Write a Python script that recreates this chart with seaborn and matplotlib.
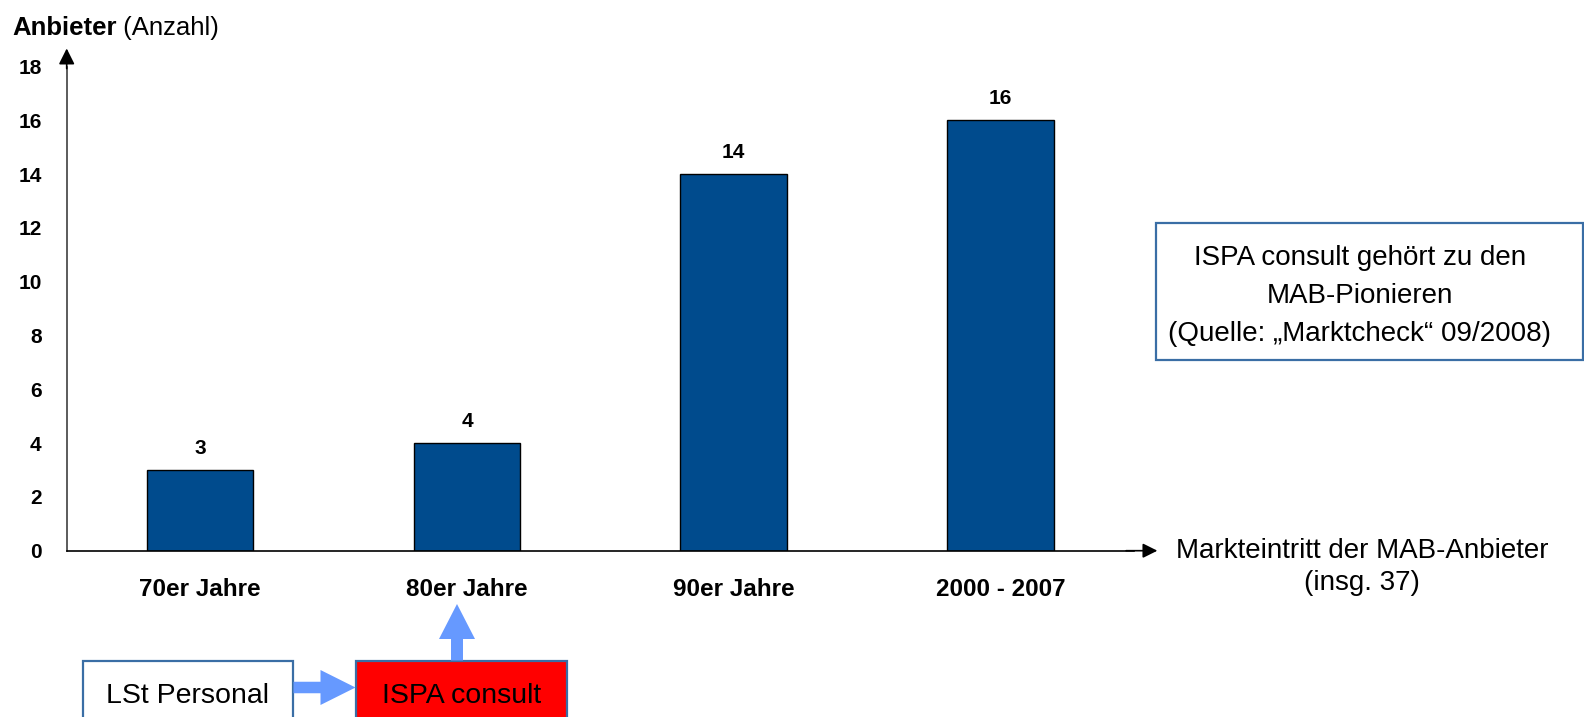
import numpy as np
import pandas as pd
import matplotlib
matplotlib.use("Agg")
import matplotlib.pyplot as plt
from matplotlib.patches import Rectangle, FancyArrow
import seaborn as sns

decades = ["70er Jahre", "80er Jahre", "90er Jahre", "2000 - 2007"]
anbieter = [3, 4, 14, 16]
y_ticks = [0, 2, 4, 6, 8, 10, 12, 14, 16, 18]

bar_color = "#004B8D"
arrow_blue = "#6699FF"
box_blue = "#3A6EA5"

sns.set_style("white")
plt.rcParams["font.family"] = ["Liberation Sans", "DejaVu Sans"]
plt.rcParams["text.color"] = "black"
plt.rcParams["xtick.color"] = "black"
plt.rcParams["ytick.color"] = "black"
plt.rcParams["xtick.labelcolor"] = "black"
plt.rcParams["ytick.labelcolor"] = "black"

W, H = 1584, 717
fig = plt.figure(figsize=(W / 100, H / 100), dpi=100)

# main axes placed in pixel terms (x0=66.7, x1=1134, y(0)=550.7, y(18)=66.5)
ax = fig.add_axes([66.7 / W, 1 - 550.7 / H, (1134 - 66.7) / W, (550.7 - 66.5) / H])
df = pd.DataFrame({"decade": decades, "n": anbieter})
sns.barplot(data=df, x="decade", y="n", color=bar_color, saturation=1,
            width=0.4, edgecolor="black", linewidth=1, ax=ax)

ax.set_xlim(-0.5, 3.5)
ax.set_ylim(0, 18)
ax.set_xlabel("")
ax.set_ylabel("")
sns.despine(ax=ax)
ax.spines["left"].set_color("#404040")
ax.spines["bottom"].set_color("black")
ax.spines["left"].set_linewidth(1.2)
ax.spines["bottom"].set_linewidth(1.2)

ax.set_yticks(y_ticks)
ax.set_yticklabels([str(t) for t in y_ticks], fontsize=15, fontweight="bold")
ax.tick_params(axis="y", direction="out", length=8, width=1, pad=10, color="#404040",
               labelcolor="black")

ax.set_xticks(range(len(decades)))
ax.set_xticklabels(decades, fontsize=17.5, fontweight="bold")
ax.set_xticks(np.arange(-0.5, len(decades), 1), minor=True)
ax.tick_params(axis="x", which="major", length=0, pad=20, labelcolor="black")
ax.tick_params(axis="x", which="minor", direction="out", length=8, width=1, color="black")

for i, v in enumerate(anbieter):
    ax.annotate(str(v), xy=(i, v), xytext=(0, 9), textcoords="offset points",
                ha="center", va="bottom", fontsize=15, fontweight="bold", color="black")

# axis arrows
ax.annotate("", xy=(0, 1.043), xytext=(0, 0.99), xycoords="axes fraction",
            arrowprops=dict(arrowstyle="-|>", mutation_scale=24, lw=1.2, color="black"),
            annotation_clip=False)
ax.annotate("", xy=(1.0245, 0), xytext=(0.99, 0), xycoords="axes fraction",
            arrowprops=dict(arrowstyle="-|>", mutation_scale=22, lw=1.2, color="black"),
            annotation_clip=False)

# overlay in pixel coordinates for the annotations
ov = fig.add_axes([0, 0, 1, 1], zorder=5)
ov.set_xlim(0, W)
ov.set_ylim(H, 0)
ov.axis("off")

t1 = ov.text(12, 35, "Anbieter", fontsize=18.5, fontweight="bold",
             va="baseline", ha="left")
ov.annotate(" (Anzahl)", xy=(1, 0), xycoords=t1, va="bottom", ha="left", fontsize=18.5)

ov.text(1362, 558, "Markteintritt der MAB-Anbieter", fontsize=20,
        ha="center", va="baseline")
ov.text(1362, 590, "(insg. 37)", fontsize=20, ha="center", va="baseline")

ov.add_patch(Rectangle((1156, 222.5), 426.5, 137.5, facecolor="white",
                       edgecolor=box_blue, lw=1.6))
for yb, line in zip([265, 303, 341], ["ISPA consult gehört zu den", "MAB-Pionieren",
                                      "(Quelle: „Marktcheck“ 09/2008)"]):
    ov.text(1360, yb, line, fontsize=20, ha="center", va="baseline")

# bottom boxes and arrows
ov.add_patch(Rectangle((83, 660.7), 210, 70, facecolor="white", edgecolor=box_blue,
                       lw=1.6, clip_on=False))
ov.text(188, 703, "LSt Personal", fontsize=20.5, ha="center", va="baseline")
ov.add_patch(Rectangle((356, 660.7), 211, 70, facecolor="#FF0000", edgecolor=box_blue,
                       lw=1.6, clip_on=False))
ov.text(461.5, 703, "ISPA consult", fontsize=20.5, ha="center", va="baseline")

ov.add_patch(FancyArrow(293.5, 687.5, 62, 0, width=11.5, head_width=35, head_length=35,
                        length_includes_head=True, color=arrow_blue, lw=0))
ov.add_patch(FancyArrow(457, 660.5, 0, -56.5, width=12, head_width=36, head_length=35,
                        length_includes_head=True, color=arrow_blue, lw=0))

fig.savefig("out.png", dpi=100)
